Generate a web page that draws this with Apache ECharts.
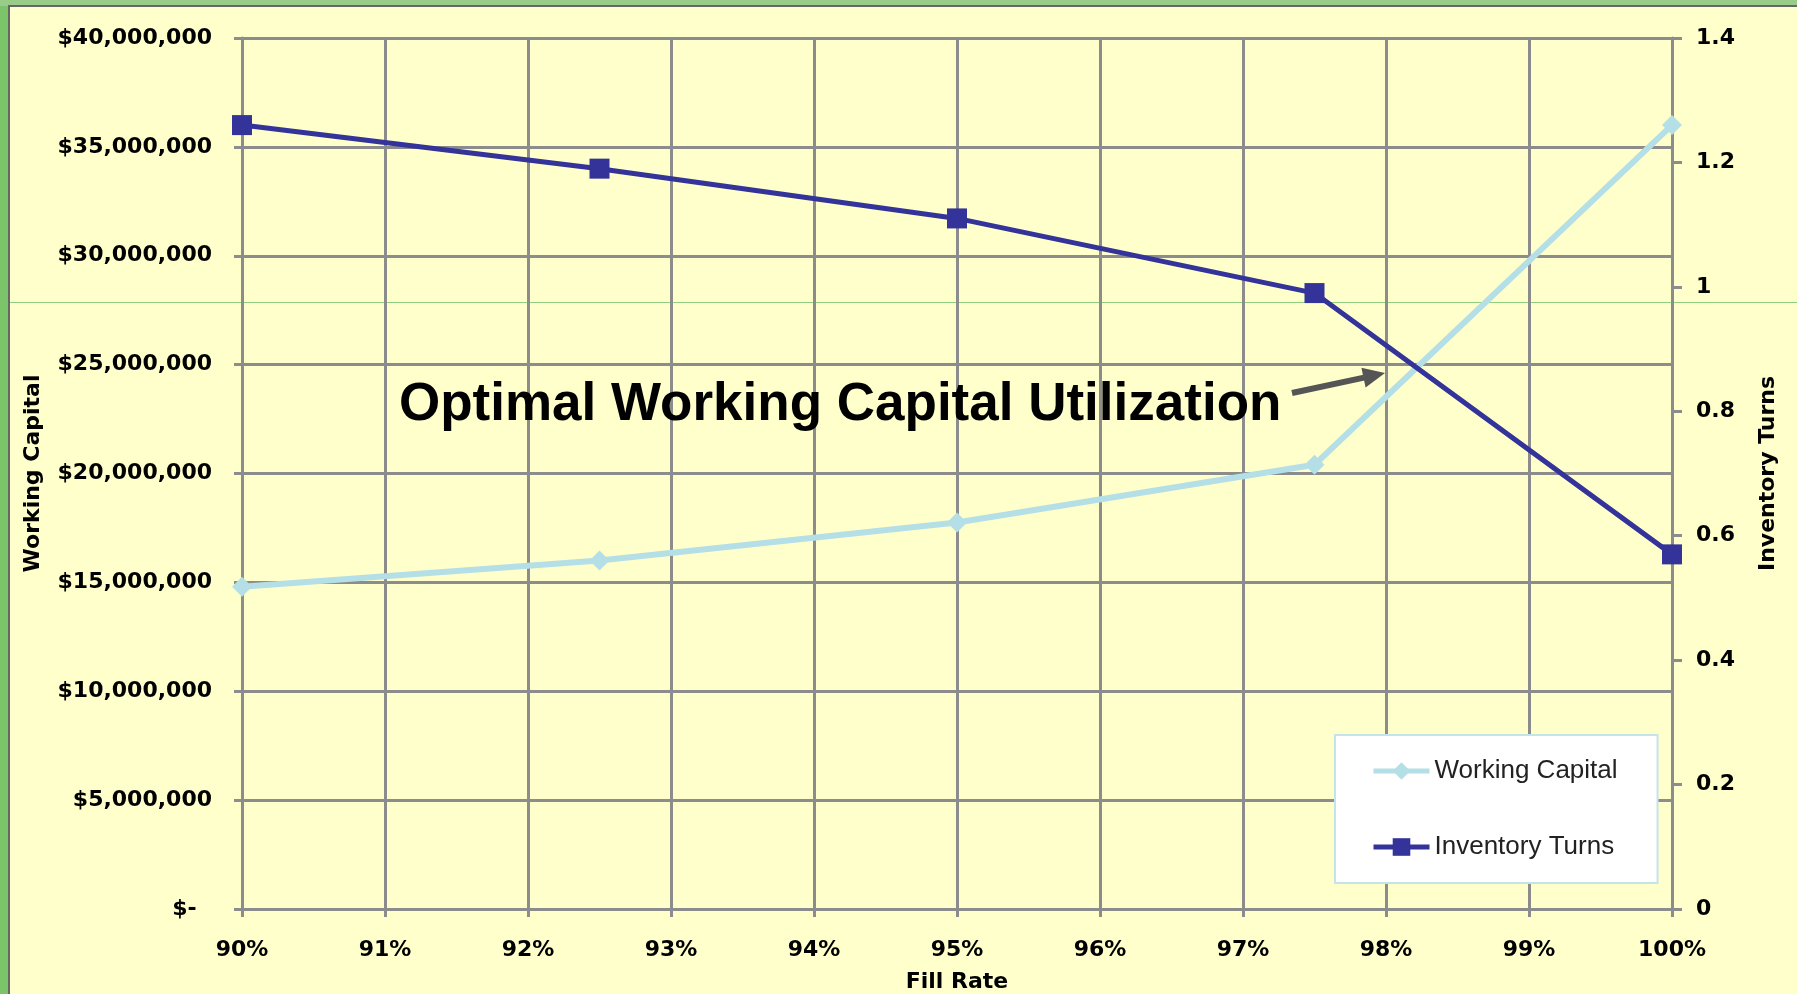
<!DOCTYPE html>
<html>
<head>
<meta charset="utf-8">
<script src="https://cdn.jsdelivr.net/npm/echarts@6/dist/echarts.min.js"></script>
<style>
  html, body { margin: 0; padding: 0; }
  body { width: 1797px; height: 994px; background: #7cc46a; position: relative; overflow: hidden; }
  #topstrip { position: absolute; left: 0; top: 0; width: 1797px; height: 6px; background: #98cc88; }
  #panel { position: absolute; left: 8px; top: 5px; width: 1789px; height: 989px; background: #ffffcc;
           border-left: 2px solid #666; border-top: 2px solid #666; box-sizing: border-box; }
  #slideLine { position: absolute; left: 10px; top: 302px; width: 1787px; height: 1px; background: #8fcf7f; }
  #main { position: absolute; left: 0; top: 0; width: 1797px; height: 994px; }
</style>
</head>
<body>
<div id="topstrip"></div>
<div id="panel"></div>
<div id="slideLine"></div>
<div id="main"></div>
<script>
  // fill rate (%) at each point
  var fillRate = [90, 92.5, 95, 97.5, 100];
  // working capital ($), left axis
  var workingCapital = [14800000, 16000000, 17750000, 20400000, 36000000];
  // inventory turns, right axis
  var inventoryTurns = [1.26, 1.19, 1.11, 0.99, 0.57];

  var gridGray = '#8c8c8c';
  var labelFont = { color: '#000', fontFamily: 'DejaVu Sans', fontWeight: 'bold', fontSize: 22 };

  function pairs(xs, ys) {
    var out = [];
    for (var i = 0; i < xs.length; i++) out.push([xs[i], ys[i]]);
    return out;
  }

  var myChart = echarts.init(document.getElementById('main'));

  var option = {
    backgroundColor: 'transparent',
    animation: false,

    grid: { left: 242, right: 125, top: 38, bottom: 85, outerBoundsMode: 'none' },

    legend: {
      orient: 'vertical',
      left: 1335,
      top: 735,
      backgroundColor: '#fff',
      borderColor: '#c5e4e8',
      borderWidth: 2,
      borderRadius: 0,
      padding: [23, 40, 23, 36],
      itemWidth: 56,
      itemHeight: 22,
      itemGap: 50,
      lineStyle: { width: 5 },
      textStyle: { color: '#222', fontFamily: 'Liberation Sans', fontSize: 26 },
      data: ['Working Capital', 'Inventory Turns']
    },

    // Horizontal axis
    xAxis: {
      type: 'value',
      min: 90,
      max: 100,
      interval: 1,
      name: 'Fill Rate',
      nameLocation: 'middle',
      nameGap: 62,
      nameTextStyle: labelFont,
      axisLine: { show: true, lineStyle: { color: gridGray, width: 3 } },
      axisTick: { show: true, length: 8, lineStyle: { color: gridGray, width: 3 } },
      axisLabel: Object.assign({ margin: 30, formatter: function (v) { return v + '%'; } }, labelFont),
      splitLine: { show: true, lineStyle: { color: gridGray, width: 3 } }
    },

    // Vertical axes
    yAxis: [{
      type: 'value',
      min: 0,
      max: 40000000,
      interval: 5000000,
      name: 'Working Capital',
      nameLocation: 'middle',
      nameRotate: 90,
      nameGap: 198,
      nameTextStyle: labelFont,
      axisLine: { show: true, lineStyle: { color: gridGray, width: 3 } },
      axisTick: { show: true, length: 8, lineStyle: { color: gridGray, width: 3 } },
      axisLabel: Object.assign({
        margin: 30,
        formatter: function (v) {
          if (v === 0) return '$-  ';
          return '$' + v.toLocaleString('en-US');
        }
      }, labelFont),
      splitLine: { show: true, lineStyle: { color: gridGray, width: 3 } }
    }, {
      type: 'value',
      position: 'right',
      min: 0,
      max: 1.4,
      interval: 0.2,
      name: 'Inventory Turns',
      nameLocation: 'middle',
      nameRotate: 90,
      nameGap: 85,
      nameTextStyle: labelFont,
      axisLine: { show: true, lineStyle: { color: gridGray, width: 3 } },
      axisTick: { show: true, length: 10, lineStyle: { color: gridGray, width: 3 } },
      axisLabel: Object.assign({
        margin: 24,
        formatter: function (v) { return String(Number(v.toFixed(1))); }
      }, labelFont),
      splitLine: { show: false }
    }],

    series: [
      {
        name: 'Working Capital',
        type: 'line',
        yAxisIndex: 0,
        symbol: 'diamond',
        symbolSize: 20,
        lineStyle: { color: '#b5dfe6', width: 6 },
        itemStyle: { color: '#b5dfe6' },
        data: pairs(fillRate, workingCapital)
      },
      {
        name: 'Inventory Turns',
        type: 'line',
        yAxisIndex: 1,
        symbol: 'rect',
        symbolSize: 20,
        lineStyle: { color: '#333399', width: 5 },
        itemStyle: { color: '#333399' },
        data: pairs(fillRate, inventoryTurns)
      }
    ],

    // annotation
    graphic: [
      {
        type: 'text',
        left: 399,
        top: 379,
        z: 50,
        style: {
          text: 'Optimal Working Capital Utilization',
          fill: '#000',
          font: 'bold 53px "Liberation Sans", Arial, sans-serif'
        }
      },
      {
        type: 'line',
        z: 50,
        shape: { x1: 1292, y1: 393, x2: 1364, y2: 377.6 },
        style: { stroke: '#555', lineWidth: 6 }
      },
      {
        type: 'polygon',
        z: 50,
        shape: { points: [[1385, 373], [1365.6, 387.4], [1361.4, 367.8]] },
        style: { fill: '#555' }
      }
    ]
  };

  myChart.setOption(option);
</script>
</body>
</html>
